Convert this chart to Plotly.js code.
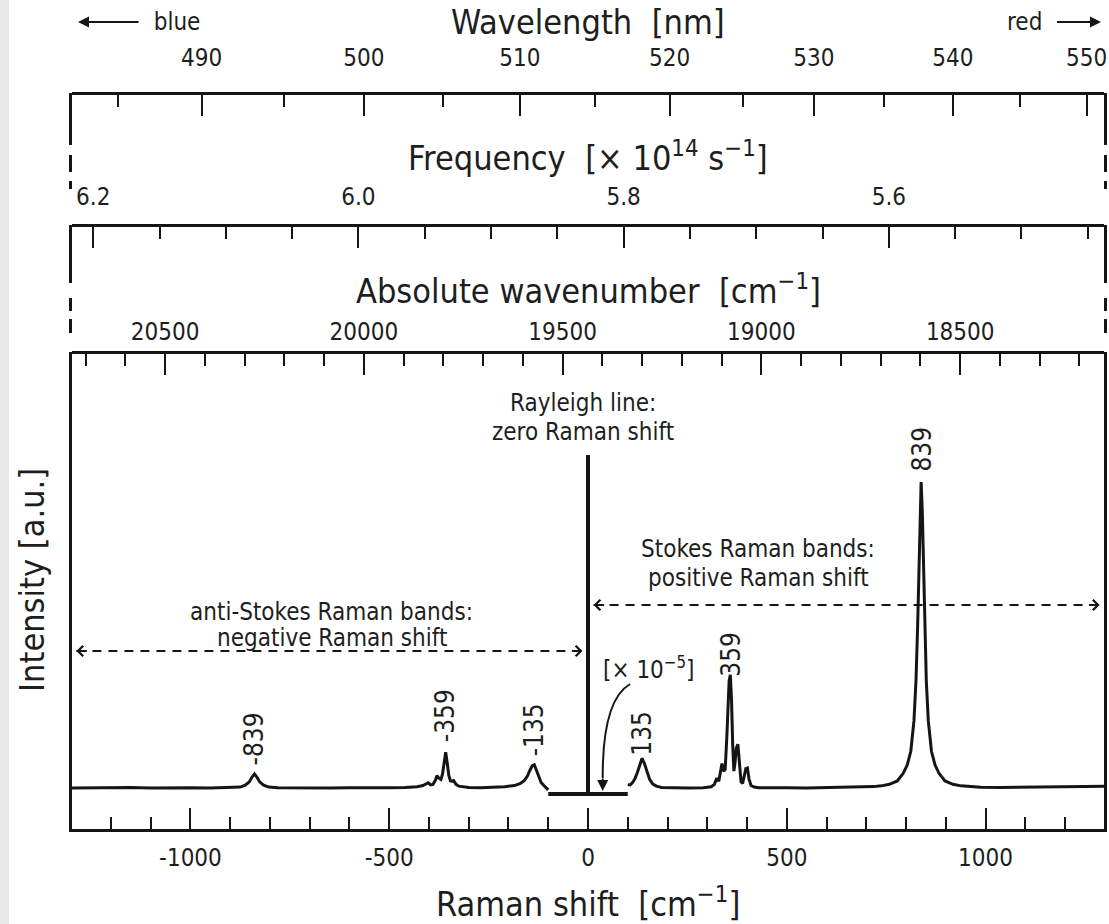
<!DOCTYPE html>
<html><head><meta charset="utf-8">
<script src="https://cdn.plot.ly/plotly-3.0.1.min.js"></script>
<style>html,body{margin:0;padding:0;background:#fff}#chart{width:1109px;height:924px}</style>
</head><body><div id="chart"></div>
<script>
// ---------------- data ----------------
const laserWavenumber = 19436.3; // cm^-1 (514.5 nm excitation)

const antiStokesShift = [-1298,-1250,-1200,-1150,-1100,-1050,-1000,-950,-900,-875,-862,-852,-845,-839,-833,-826,-816,-803,-780,-740,-700,-650,-600,-550,-500,-460,-430,-415,-408,-402,-396,-390,-384,-380,-375,-370,-366,-362,-358,-354,-350,-346,-342,-338,-332,-325,-313,-300,-270,-240,-210,-185,-170,-160,-152,-146,-140,-135,-130,-125,-118,-111,-105,-100];
const antiStokesIntensity = [0,0.1,0,0.2,0,0.1,0.1,0,0.1,0.3,0.9,2.0,3.6,4.6,3.6,2.0,0.9,0.3,0.1,0,0.1,0,0.1,0,0.1,0.2,0.4,0.8,1.3,1.7,1.0,1.2,2.5,4.0,3.2,2.8,4.5,8.5,11.7,8.0,4.0,2.3,2.2,2.4,1.2,0.6,0.3,0.2,0.1,0.2,0.4,0.8,1.5,2.5,4.0,5.8,7.3,7.6,6.0,3.8,1.8,0.8,0.2,-0.6];

const stokesShift = [100,106,112,118,124,130,136,142,148,155,163,172,185,210,250,290,310,318,324,329,334,337,341,345,349,352,355,358,361,364,367,370,373,377,381,385,389,393,397,401,405,410,418,430,460,500,550,600,638,688,718,738,758,778,793,803,812,820,825,829,832,835,838,841,844,847,851,856,864,873,883,898,918,938,958,988,1038,1100,1150,1200,1250,1298];
const stokesIntensity = [1.1,1.0,1.8,3.0,5.0,7.6,9.7,8.0,5.2,2.8,1.3,0.6,0.2,0.1,0,0.1,0.4,1.2,3.3,2.2,6.5,8.0,5.5,6.0,16,27,35,37,29,14,5.5,8.5,13,14.3,8,2.0,1.5,3.5,6.3,6.5,3.0,0.8,0.3,0.1,0,0.1,0,0.1,0.1,0.25,0.45,0.7,1.2,2.3,4.8,7.5,12,22,35,52,70,90,100,90,70,52,35,22,12,7.5,4.8,2.3,1.2,0.7,0.45,0.25,0.15,0.2,0.3,0.4,0.5,0.6];

const rayleighShift = [-100, 0, 0, 0, 100];
const rayleighIntensity = [-2, -2, 108.8, -2, -2];

const ramanTicks = [-1000, -500, 0, 500, 1000];
const ramanTickText = ['-1000', '-500', '0', '500', '1000'];
const ramanMinor = [-1200,-1100,-900,-800,-700,-600,-400,-300,-200,-100,100,200,300,400,600,700,800,900,1100,1200];

const wavenumberTicks = [20500, 20000, 19500, 19000, 18500];
const wavenumberMinor = [20700,20600,20400,20300,20200,20100,19900,19800,19700,19600,19400,19300,19200,19100,18900,18800,18700,18600,18400,18300,18200];

const frequencyTicks = [6.2, 6.0, 5.8, 5.6];
const frequencyTickText = ['6.2', '6.0', '5.8', '5.6'];
const frequencyMinor = [6.15,6.10,6.05,5.95,5.90,5.85,5.75,5.70,5.65,5.55,5.50,5.45];

const wavelengthTicks = [490, 500, 510, 520, 530, 540, 550];
const wavelengthMinor = [485, 495, 505, 515, 525, 535, 545];

const peakLabels = ['-839', '-359', '-135', '135', '359', '839'];
const peakPositions = [-839, -359, -135, 135, 359, 839];

// ---------------- conversions ----------------
const C_CM = 2.99792458e10;
const fromWavenumber = w => laserWavenumber - w;
const fromFrequency = f => laserWavenumber - f * 1e14 / C_CM;
const fromWavelength = l => laserWavenumber - 1e7 / l;

// ---------------- layout geometry ----------------
const W = 1109, H = 924, L = 72, R = 5, T = 0, B = 95;
const plotW = W - L - R, plotH = H - T - B;
const PX = v => (v - L) / plotW;          // pixel x -> paper
const PY = v => 1 - (v - T) / plotH;      // pixel y -> paper
const BASE_PX = 788, PX_PER_UNIT = 3.06;  // intensity scale
const YV = v => (BASE_PX - v) / PX_PER_UNIT; // pixel y -> intensity
const XR = [-1298, 1298];

const FONT = '"DejaVu Sans Condensed", "DejaVu Sans", sans-serif';
const INK = '#151515', TXT = '#1e1e1e';
const TICKF = {family: FONT, size: 24, color: TXT};
const TITLEF = {family: FONT, size: 34, color: TXT};
const ANNF = {family: FONT, size: 24, color: TXT};
const PEAKF = {family: FONT, size: 26, color: TXT};

function topAxis(pos, tv, tt, minor, standoff) {
  return {
    overlaying: 'x', anchor: 'free', position: pos, side: 'top',
    range: XR, autorange: false, showgrid: false, zeroline: false,
    showline: true, linewidth: 3, linecolor: INK,
    tickmode: 'array', tickvals: tv, ticktext: tt,
    ticks: 'inside', ticklen: 21, tickwidth: 2, tickcolor: INK,
    tickfont: TICKF, ticklabelstandoff: standoff,
    minor: {tickmode: 'array', tickvals: minor, ticks: 'inside', ticklen: 12, tickwidth: 2, tickcolor: INK}
  };
}

const traces = [
  {x: antiStokesShift, y: antiStokesIntensity, mode: 'lines', line: {color: INK, width: 3}, hoverinfo: 'skip', showlegend: false},
  {x: stokesShift, y: stokesIntensity, mode: 'lines', line: {color: INK, width: 3}, hoverinfo: 'skip', showlegend: false},
  {x: rayleighShift, y: rayleighIntensity, mode: 'lines', line: {color: INK, width: 4}, hoverinfo: 'skip', showlegend: false},
  {x: [-1287, -14], y: [YV(651), YV(651)], mode: 'lines', line: {color: INK, width: 2, dash: '9px,7px'}, hoverinfo: 'skip', showlegend: false},
  {x: [14, 1287], y: [YV(605), YV(605)], mode: 'lines', line: {color: INK, width: 2, dash: '9px,7px'}, hoverinfo: 'skip', showlegend: false},
  {x: XR, y: [null, null], xaxis: 'x2', yaxis: 'y', mode: 'lines', hoverinfo: 'skip', showlegend: false},
  {x: XR, y: [null, null], xaxis: 'x3', yaxis: 'y', mode: 'lines', hoverinfo: 'skip', showlegend: false},
  {x: XR, y: [null, null], xaxis: 'x4', yaxis: 'y', mode: 'lines', hoverinfo: 'skip', showlegend: false}
];

const shapes = [];
function vseg(xpx, y0, y1) {
  shapes.push({type: 'line', xref: 'paper', yref: 'paper', x0: PX(xpx), x1: PX(xpx), y0: PY(y0), y1: PY(y1), line: {color: INK, width: 3}});
}
[L - 1.5, W - R + 1.5].forEach(xp => {
  vseg(xp, 93, 145); vseg(xp, 155, 172); vseg(xp, 181, 189);
  vseg(xp, 225, 283); vseg(xp, 298, 311); vseg(xp, 319, 333);
});
// left grey page edge
shapes.push({type: 'rect', xref: 'paper', yref: 'paper', x0: PX(0), x1: PX(9), y0: PY(0), y1: PY(924), fillcolor: '#e9e9e9', line: {width: 0}, layer: 'below'});
// curved pointer from the [x 10^-5] note to the Rayleigh baseline
shapes.push({type: 'path', xref: 'x', yref: 'y', path: `M 106,${YV(684)} Q 36,${YV(700)} 37,${YV(778)}`, line: {color: INK, width: 2}});

const ann = [];
function txt(x, y, text, font, extra) {
  ann.push(Object.assign({x, y, text, showarrow: false, font, xanchor: 'center', yanchor: 'middle'}, extra || {}));
}
// titles
txt(PX(588), PY(22), 'Wavelength\u00a0\u00a0[nm]', TITLEF, {xref: 'paper', yref: 'paper'});
txt(PX(588), PY(156), 'Frequency\u00a0\u00a0[× 10<sup>14</sup> s<sup>−1</sup>]', TITLEF, {xref: 'paper', yref: 'paper'});
txt(PX(588), PY(289), 'Absolute wavenumber\u00a0\u00a0[cm<sup>−1</sup>]', TITLEF, {xref: 'paper', yref: 'paper'});
txt(PX(588), PY(902), 'Raman shift\u00a0\u00a0[cm<sup>−1</sup>]', TITLEF, {xref: 'paper', yref: 'paper'});
txt(PX(32), PY(580), 'Intensity [a.u.]', TITLEF, {xref: 'paper', yref: 'paper', textangle: -90});
// blue / red with their arrows
ann.push({xref: 'paper', yref: 'paper', x: PX(78), y: PY(22), ax: 92, ay: 0, text: '\u00a0\u00a0blue', font: ANNF, showarrow: true, arrowhead: 2, arrowsize: 1.1, arrowwidth: 2, arrowcolor: INK});
ann.push({xref: 'paper', yref: 'paper', x: PX(1101), y: PY(22), ax: -70, ay: 0, text: 'red\u00a0\u00a0', font: ANNF, showarrow: true, arrowhead: 2, arrowsize: 1.1, arrowwidth: 2, arrowcolor: INK});
// region labels
txt(-12, YV(403), 'Rayleigh line:', ANNF, {xref: 'x', yref: 'y'});
txt(-12, YV(432), 'zero Raman shift', ANNF, {xref: 'x', yref: 'y'});
txt(-645, YV(612), 'anti-Stokes Raman bands:', ANNF, {xref: 'x', yref: 'y'});
txt(-645, YV(638), 'negative Raman shift', ANNF, {xref: 'x', yref: 'y'});
txt(428, YV(549), 'Stokes Raman bands:', ANNF, {xref: 'x', yref: 'y'});
txt(428, YV(578), 'positive Raman shift', ANNF, {xref: 'x', yref: 'y'});
txt(153, YV(668), '[× 10<sup>−5</sup>]', ANNF, {xref: 'x', yref: 'y'});
// dashed arrow heads
[[-1287, 651, 12], [-14, 651, -12], [14, 605, 12], [1287, 605, -12]].forEach(a => {
  ann.push({xref: 'x', yref: 'y', x: a[0], y: YV(a[1]), ax: a[2], ay: 0, text: '', showarrow: true, arrowhead: 4, arrowsize: 1, arrowwidth: 2, arrowcolor: INK});
});
// curved pointer head
ann.push({xref: 'x', yref: 'y', x: 37, y: YV(791), ax: 0, ay: -14, text: '', showarrow: true, arrowhead: 2, arrowsize: 1.1, arrowwidth: 2, arrowcolor: INK});
// peak labels
const peakLabelPx = [739, 716, 730, 733, 654, 449];
peakLabels.forEach((t, i) => txt(peakPositions[i], YV(peakLabelPx[i]), t, PEAKF, {xref: 'x', yref: 'y', textangle: -90}));

const layout = {
  width: W, height: H,
  margin: {l: L, r: R, t: T, b: B, pad: 0},
  paper_bgcolor: '#fff', plot_bgcolor: 'rgba(0,0,0,0)',
  showlegend: false,
  xaxis: {
    range: XR, autorange: false, showgrid: false, zeroline: false,
    showline: true, linewidth: 3, linecolor: INK, mirror: false,
    tickmode: 'array', tickvals: ramanTicks, ticktext: ramanTickText,
    ticks: 'inside', ticklen: 21, tickwidth: 2, tickcolor: INK,
    tickfont: TICKF, ticklabelstandoff: 5,
    minor: {tickmode: 'array', tickvals: ramanMinor, ticks: 'inside', ticklen: 12, tickwidth: 2, tickcolor: INK}
  },
  xaxis2: topAxis(PY(352), wavenumberTicks.map(fromWavenumber), wavenumberTicks.map(String), wavenumberMinor.map(fromWavenumber), 1),
  xaxis3: topAxis(PY(225), frequencyTicks.map(fromFrequency), frequencyTickText, frequencyMinor.map(fromFrequency), 9),
  xaxis4: topAxis(PY(93), wavelengthTicks.map(fromWavelength), wavelengthTicks.map(String), wavelengthMinor.map(fromWavelength), 16),
  yaxis: {
    domain: [0, PY(352)], range: [YV(829), YV(352)], autorange: false,
    showgrid: false, zeroline: false, showticklabels: false, ticks: '',
    showline: true, linewidth: 3, linecolor: INK, mirror: true
  },
  shapes: shapes,
  annotations: ann
};

Plotly.newPlot('chart', traces, layout, {staticPlot: true, displayModeBar: false});
</script>
</body></html>
